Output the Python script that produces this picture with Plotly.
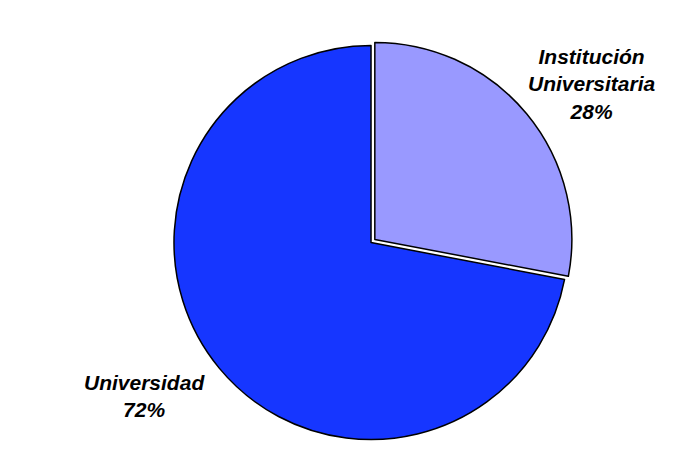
import plotly.graph_objects as go

labels = ["Institución<br>Universitaria", "Universidad"]
values = [28, 72]
colors = ["#9999FF", "#1636ff"]
pulls = [0.025, 0]

W, H = 692, 459
fig = go.Figure()
fig.add_trace(go.Pie(
    labels=labels,
    values=values,
    sort=False,
    direction="clockwise",
    rotation=0,
    pull=pulls,
    textinfo="none",
    hoverinfo="label+percent",
    marker=dict(colors=colors, line=dict(color="black", width=1.5)),
    domain=dict(x=[0.2326, 0.8166], y=[0.049, 0.929]),
    showlegend=False,
))

total = sum(values)
label_pos = [(584, 76), (136, 388)]
for lab, v, (px, py) in zip(labels, values, label_pos):
    fig.add_annotation(
        x=px / W, y=1 - py / H, xref="paper", yref="paper",
        text=f"<b><i>{lab}<br>{round(100 * v / total)}%</i></b>",
        showarrow=False, align="center", xanchor="center", yanchor="middle",
        font=dict(family="Liberation Sans, Arial", size=21, color="black"),
    )

fig.update_layout(
    width=W, height=H,
    margin=dict(l=0, r=0, t=0, b=0),
    paper_bgcolor="white", plot_bgcolor="white",
)
fig.write_html("out.html")
